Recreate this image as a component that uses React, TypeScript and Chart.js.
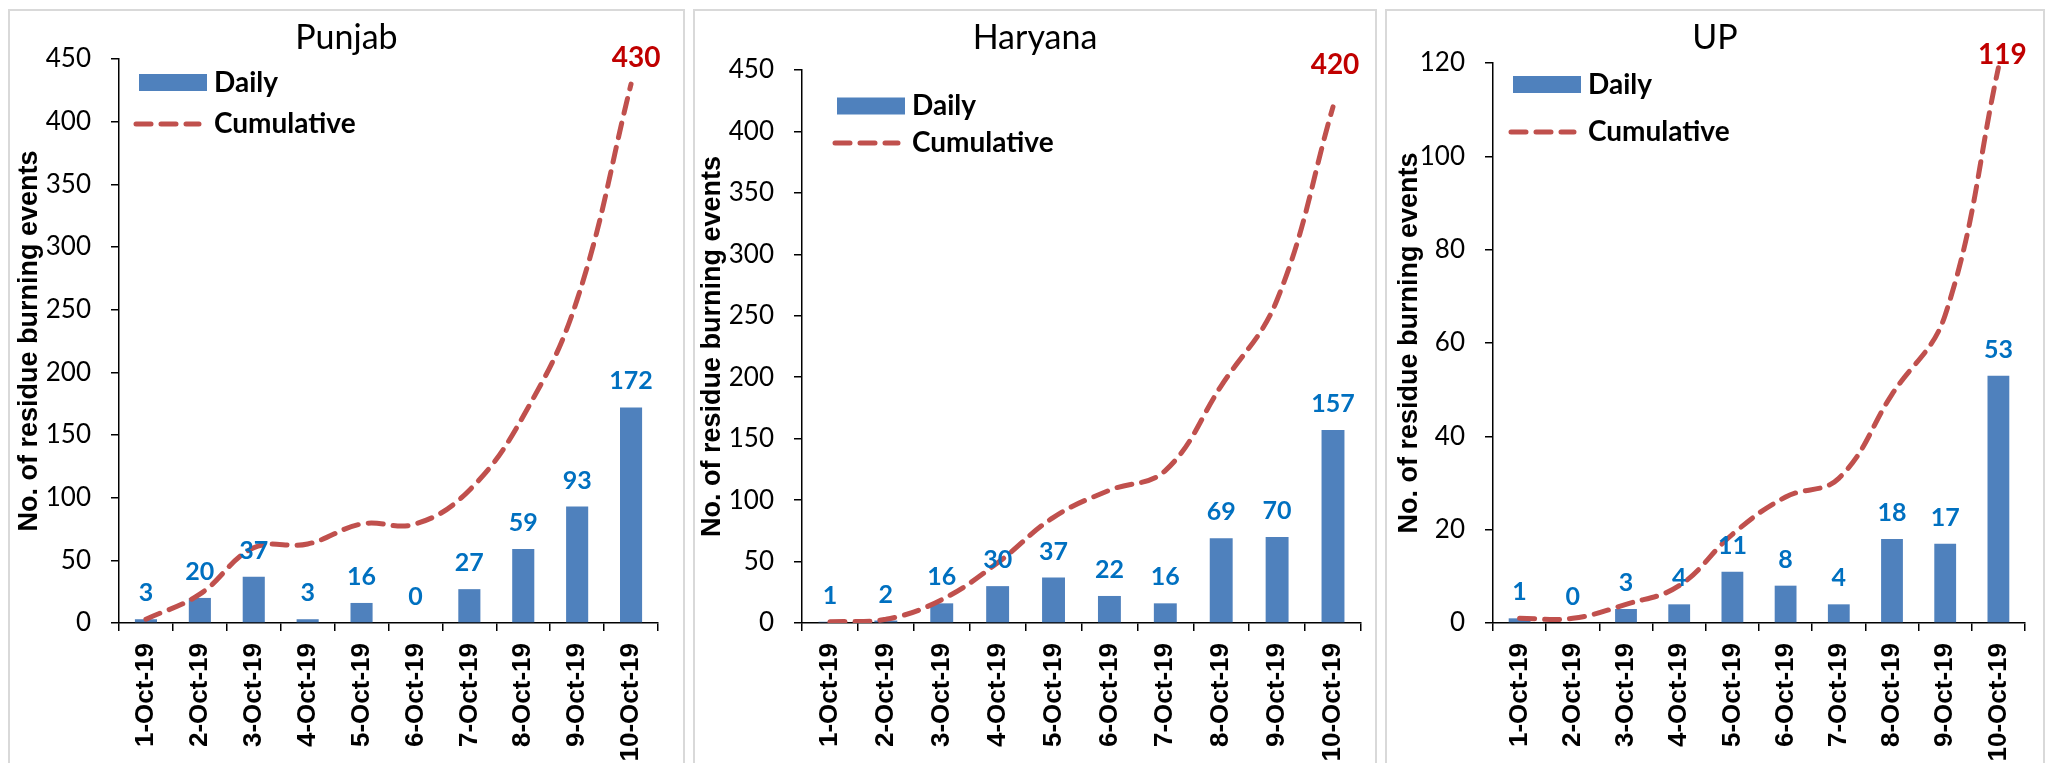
import React, { useEffect, useRef } from 'react';
import { Chart, registerables } from 'chart.js';

Chart.register(...registerables);

// ---------- data ----------
const DATES = ['1-Oct-19', '2-Oct-19', '3-Oct-19', '4-Oct-19', '5-Oct-19', '6-Oct-19', '7-Oct-19', '8-Oct-19', '9-Oct-19', '10-Oct-19'];
const PUNJAB_DAILY = [3, 20, 37, 3, 16, 0, 27, 59, 93, 172];
const PUNJAB_CUMULATIVE = [3, 23, 60, 63, 79, 79, 106, 165, 258, 430];
const HARYANA_DAILY = [1, 2, 16, 30, 37, 22, 16, 69, 70, 157];
const HARYANA_CUMULATIVE = [1, 3, 19, 49, 86, 108, 124, 193, 263, 420];
const UP_DAILY = [1, 0, 3, 4, 11, 8, 4, 18, 17, 53];
const UP_CUMULATIVE = [1, 1, 4, 8, 19, 27, 31, 49, 66, 119];
const TITLES = ['Punjab', 'Haryana', 'UP'];
const Y_MAX = [450, 450, 120];
const Y_STEP = [50, 50, 20];
const SERIES_NAMES = ['Daily', 'Cumulative'];
const Y_TITLE = 'No. of residue burning events';

const DAILY = [PUNJAB_DAILY, HARYANA_DAILY, UP_DAILY];
const CUMULATIVE = [PUNJAB_CUMULATIVE, HARYANA_CUMULATIVE, UP_CUMULATIVE];

// ---------- layout / style ----------
const CANVAS_H = 790;
const LAYOUT = [
  { left: 8, top: 9, width: 677, titlePad: 5, area: { l: 111, r: 650, t: 50, b: 614 }, legend: { swatch: 20, daily: 23.5, cum: 65, line: 17, text: 95 }, last: { dx: 5, dy: -26 } },
  { left: 693, top: 9, width: 684, titlePad: 3, area: { l: 109, r: 668, t: 61, b: 614 }, legend: { swatch: 35, daily: 36, cum: 73, line: 33, text: 110 }, last: { dx: 2, dy: -42 } },
  { left: 1385, top: 9, width: 660, titlePad: 8, area: { l: 108, r: 640, t: 54, b: 614 }, legend: { swatch: 20, daily: 21.5, cum: 69, line: 18, text: 95 }, last: { dx: 4, dy: -13 } },
];
const BAR_COLOR = '#4F81BD';
const LINE_COLOR = '#C0504D';
const DAILY_LABEL_COLOR = '#0070C0';
const CUM_LABEL_COLOR = '#C00000';
const DASH = [15, 10];

function Panel({ index }: { index: number }) {
  const ref = useRef<HTMLCanvasElement | null>(null);
  const lay = LAYOUT[index];

  useEffect(() => {
    const canvas = ref.current;
    if (!canvas) return;
    const area = lay.area;

    const overlay = {
      id: 'overlay' + index,
      afterDatasetsDraw(chart: any) {
        const ctx = chart.ctx;
        const ca = chart.chartArea;
        ctx.save();
        // title
        ctx.fillStyle = '#000';
        ctx.font = '34px Lato';
        ctx.textAlign = 'center';
        ctx.textBaseline = 'middle';
        ctx.fillText(TITLES[index], chart.width / 2, 29);

        // legend
        const lg = lay.legend;
        ctx.fillStyle = BAR_COLOR;
        ctx.fillRect(ca.left + lg.swatch, ca.top + lg.daily - 8.5, 68, 17);
        ctx.strokeStyle = LINE_COLOR;
        ctx.lineWidth = 5;
        ctx.lineCap = 'round';
        ctx.setLineDash(DASH);
        ctx.beginPath();
        ctx.moveTo(ca.left + lg.line, ca.top + lg.cum);
        ctx.lineTo(ca.left + lg.line + 63, ca.top + lg.cum);
        ctx.stroke();
        ctx.setLineDash([]);
        ctx.fillStyle = '#000';
        ctx.font = 'bold 28px Lato';
        ctx.textAlign = 'left';
        ctx.fillText(SERIES_NAMES[0], ca.left + lg.text, ca.top + lg.daily);
        ctx.fillText(SERIES_NAMES[1], ca.left + lg.text, ca.top + lg.cum);

        // bar labels
        const barMeta = chart.getDatasetMeta(0);
        const daily = DAILY[index];
        ctx.fillStyle = DAILY_LABEL_COLOR;
        ctx.font = 'bold 25px Lato';
        ctx.textAlign = 'center';
        barMeta.data.forEach((el: any, i: number) => {
          ctx.fillText(String(daily[i]), el.x, el.y - 26);
        });

        // last cumulative label
        const lineMeta = chart.getDatasetMeta(1);
        const cum = CUMULATIVE[index];
        const lastEl = lineMeta.data[lineMeta.data.length - 1];
        ctx.fillStyle = CUM_LABEL_COLOR;
        ctx.font = 'bold 28px Lato';
        ctx.fillText(String(cum[cum.length - 1]), lastEl.x + lay.last.dx, lastEl.y + lay.last.dy);
        ctx.restore();
      },
    };

    const chart = new Chart(canvas, {
      type: 'bar',
      data: {
        labels: DATES,
        datasets: [
          {
            type: 'bar',
            label: SERIES_NAMES[0],
            data: DAILY[index],
            backgroundColor: BAR_COLOR,
            barPercentage: 0.41,
            categoryPercentage: 1,
            order: 1,
          },
          {
            type: 'line',
            label: SERIES_NAMES[1],
            data: CUMULATIVE[index],
            borderColor: LINE_COLOR,
            backgroundColor: LINE_COLOR,
            borderWidth: 5,
            borderDash: DASH,
            borderCapStyle: 'round',
            tension: 0.4,
            pointRadius: 0,
            fill: false,
            order: 0,
          },
        ] as any,
      },
      options: {
        responsive: false,
        animation: false,
        layout: { padding: { left: 0, top: area.t, right: lay.width - area.r, bottom: 0 } },
        plugins: {
          legend: { display: false },
          title: { display: false },
          tooltip: { enabled: false },
        },
        scales: {
          x: {
            grid: { display: true, drawOnChartArea: false, drawTicks: true, tickLength: 8, color: '#000', lineWidth: 1.5, offset: true },
            border: { display: true, color: '#000', width: 1.5 },
            ticks: {
              autoSkip: false,
              maxRotation: 90,
              minRotation: 90,
              padding: 12,
              color: '#000',
              font: { family: '"Liberation Sans", Arial, sans-serif', size: 26, weight: 'bold' },
            },
            afterFit: (s: any) => { s.height = CANVAS_H - area.b; },
          },
          y: {
            min: 0,
            max: Y_MAX[index],
            ticks: {
              stepSize: Y_STEP[index],
              padding: 20,
              color: '#000',
              font: { family: 'Lato', size: 26 },
            },
            grid: { drawOnChartArea: false, drawTicks: true, tickLength: 8, color: '#000', lineWidth: 1.5 },
            border: { display: true, color: '#000', width: 1.5 },
            title: {
              display: true,
              text: Y_TITLE,
              color: '#000',
              font: { family: '"Liberation Sans", Arial, sans-serif', size: 27, weight: 'bold', lineHeight: 1.2 },
              padding: { top: lay.titlePad, bottom: 0 },
            },
            afterFit: (s: any) => { s.width = area.l; },
          },
        },
      } as any,
      plugins: [overlay],
    });
    return () => chart.destroy();
  }, [index]);

  return (
    <>
      <div
        style={{
          position: 'absolute',
          left: lay.left,
          top: lay.top,
          width: lay.width,
          height: CANVAS_H,
          border: '2px solid #D9D9D9',
          boxSizing: 'border-box',
          background: '#fff',
        }}
      />
      <canvas
        ref={ref}
        width={lay.width}
        height={CANVAS_H}
        style={{ position: 'absolute', left: lay.left, top: lay.top, width: lay.width, height: CANVAS_H, display: 'block' }}
      />
    </>
  );
}

export default function App() {
  return (
    <div
      style={{
        position: 'fixed',
        left: 0,
        top: 0,
        width: '100vw',
        height: '100vh',
        overflow: 'hidden',
        background: '#fff',
      }}
    >
      {[0, 1, 2].map((i) => (
        <Panel key={i} index={i} />
      ))}
    </div>
  );
}
